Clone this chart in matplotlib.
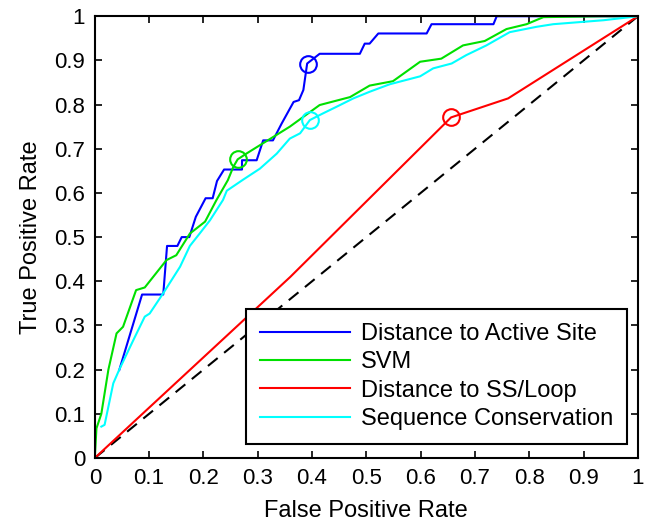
import numpy as np
import matplotlib
matplotlib.use("Agg")
import matplotlib.pyplot as plt

plt.rcParams['font.family'] = ['Liberation Sans', 'DejaVu Sans']

# ROC curves
active_fpr = [0.045, 0.087, 0.126, 0.133, 0.152, 0.160, 0.174, 0.186, 0.204, 0.217,
              0.225, 0.238, 0.271, 0.271, 0.298, 0.310, 0.328, 0.344, 0.366, 0.376,
              0.384, 0.391, 0.414, 0.488, 0.497, 0.506, 0.522, 0.611, 0.620, 0.734,
              0.740, 1.0]
active_tpr = [0.199, 0.370, 0.370, 0.480, 0.480, 0.500, 0.500, 0.546, 0.588, 0.588,
              0.627, 0.653, 0.653, 0.674, 0.674, 0.719, 0.719, 0.757, 0.806, 0.810,
              0.833, 0.893, 0.915, 0.915, 0.938, 0.938, 0.961, 0.961, 0.982, 0.982,
              1.0, 1.0]

svm_fpr = [0.0, 0.003, 0.012, 0.025, 0.040, 0.052, 0.076, 0.092, 0.132, 0.150,
           0.175, 0.203, 0.224, 0.245, 0.255, 0.263, 0.279, 0.359, 0.414, 0.470,
           0.506, 0.549, 0.599, 0.638, 0.678, 0.718, 0.758, 0.795, 0.826, 0.937, 1.0]
svm_tpr = [0.0, 0.067, 0.100, 0.200, 0.282, 0.297, 0.380, 0.386, 0.448, 0.459,
           0.508, 0.535, 0.584, 0.629, 0.659, 0.676, 0.689, 0.750, 0.799, 0.817,
           0.843, 0.853, 0.897, 0.904, 0.934, 0.944, 0.971, 0.982, 0.998, 1.0, 1.0]

loop_fpr = [0.0, 0.36, 0.656, 0.761, 1.0]
loop_tpr = [0.0, 0.41, 0.771, 0.814, 1.0]

cons_fpr = [0.012, 0.018, 0.034, 0.045, 0.071, 0.092, 0.101, 0.126, 0.157, 0.175,
            0.193, 0.212, 0.236, 0.243, 0.273, 0.304, 0.335, 0.359, 0.378,
            0.396, 0.420, 0.445, 0.476, 0.506, 0.543, 0.599, 0.623, 0.657, 0.684,
            0.721, 0.764, 0.813, 0.844, 0.937, 1.0]
cons_tpr = [0.071, 0.075, 0.169, 0.200, 0.267, 0.320, 0.327, 0.373, 0.433, 0.480,
            0.508, 0.538, 0.584, 0.605, 0.630, 0.655, 0.689, 0.723, 0.735,
            0.765, 0.780, 0.795, 0.814, 0.829, 0.846, 0.864, 0.882, 0.893, 0.912,
            0.934, 0.964, 0.976, 0.982, 0.991, 1.0]

# operating points (circles)
op_active = (0.393, 0.893)
op_svm = (0.263, 0.676)
op_loop = (0.656, 0.771)
op_cons = (0.396, 0.765)

labels = ["Distance to Active Site", "SVM", "Distance to SS/Loop", "Sequence Conservation"]
colors = ["#0000ff", "#00e000", "#ff0000", "#00ffff"]

fig = plt.figure(figsize=(6.45, 5.24), dpi=100)
ax = fig.add_axes([0.147, 0.126, 0.842, 0.843])

ax.plot([0, 1], [0, 1], color="black", ls=(0, (6, 4)), lw=1.5)

curves = [(active_fpr, active_tpr, op_active),
          (svm_fpr, svm_tpr, op_svm),
          (loop_fpr, loop_tpr, op_loop),
          (cons_fpr, cons_tpr, op_cons)]
handles = []
for (fx, ty, op), lab, c in zip(curves, labels, colors):
    h, = ax.plot(fx, ty, color=c, lw=1.5, label=lab)
    ax.plot([op[0]], [op[1]], marker="o", ms=12, mfc="none", mec=c, mew=1.5)
    handles.append(h)

ax.set_xlim(0, 1)
ax.set_ylim(0, 1)
ticks = np.round(np.arange(0, 1.01, 0.1), 1)
ax.set_xticks(ticks)
ax.set_yticks(ticks)
ax.set_xticklabels([f"{t:g}" for t in ticks])
ax.set_yticklabels([f"{t:g}" for t in ticks])
ax.tick_params(direction="in", top=True, right=True, labelsize=16, length=5,
               width=1.2, pad=7)
for s in ax.spines.values():
    s.set_linewidth(1.5)

ax.set_xlabel("False Positive Rate", fontsize=17, labelpad=8)
ax.set_ylabel("True Positive Rate", fontsize=17, labelpad=9)

leg = ax.legend(handles=handles, loc="lower right", fontsize=17, handlelength=3.8,
                frameon=True, fancybox=False, edgecolor="black", framealpha=1,
                borderaxespad=0.0, labelspacing=0.27, handletextpad=0.45,
                borderpad=0.6, bbox_to_anchor=(0.98, 0.031))
leg.get_frame().set_linewidth(1.5)

fig.savefig("out.png", dpi=100)
